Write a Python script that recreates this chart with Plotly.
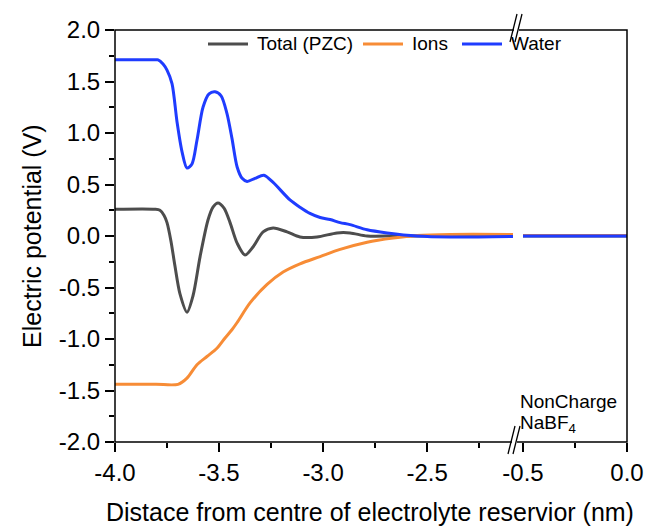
import plotly.graph_objects as go

# ---------------- data ----------------
# left segment of the broken x axis
x_total_left = [-4.0, -3.808, -3.784, -3.764, -3.750, -3.731, -3.712, -3.688, -3.654, -3.625,
                -3.591, -3.553, -3.529, -3.505, -3.476, -3.447, -3.413, -3.375, -3.337, -3.288,
                -3.240, -3.173, -3.111, -3.029, -2.933, -2.870, -2.788, -2.663, -2.534, -2.341, -2.087]
total_left = [0.26, 0.26, 0.25, 0.20, 0.13, -0.05, -0.29, -0.56, -0.74, -0.58,
              -0.20, 0.155, 0.28, 0.32, 0.27, 0.13, -0.07, -0.185, -0.107, 0.04,
              0.078, 0.04, -0.01, -0.01, 0.03, 0.03, 0.0, 0.0, 0.0, 0.0, 0.0]

x_ions_left = [-4.0, -3.803, -3.697, -3.654, -3.606, -3.558, -3.510, -3.471, -3.438, -3.413,
               -3.351, -3.269, -3.192, -3.111, -3.014, -2.918, -2.788, -2.663, -2.548, -2.389, -2.087]
ions_left = [-1.44, -1.44, -1.44, -1.38, -1.25, -1.17, -1.09, -0.99, -0.91, -0.84,
             -0.65, -0.47, -0.35, -0.27, -0.20, -0.13, -0.06, -0.02, 0.005, 0.015, 0.015]

x_water_left = [-4.0, -3.803, -3.793, -3.769, -3.750, -3.726, -3.702, -3.678, -3.654, -3.630,
                -3.606, -3.577, -3.548, -3.519, -3.490, -3.462, -3.438, -3.413, -3.389, -3.365,
                -3.327, -3.284, -3.240, -3.159, -3.111, -3.063, -3.014, -2.966, -2.918, -2.870,
                -2.788, -2.692, -2.548, -2.389, -2.087]
water_left = [1.71, 1.71, 1.71, 1.67, 1.61, 1.48, 1.11, 0.82, 0.66, 0.70,
              0.93, 1.25, 1.38, 1.40, 1.36, 1.19, 0.95, 0.67, 0.56, 0.53,
              0.56, 0.59, 0.52, 0.35, 0.28, 0.22, 0.18, 0.16, 0.13, 0.11,
              0.06, 0.03, 0.0, -0.01, -0.005]

# right segment of the broken x axis
x_right = [-0.5, -0.25, 0.0]
total_right = [0.0, 0.0, 0.0]
ions_right = [0.005, 0.005, 0.005]
water_right = [0.0, 0.0, 0.0]

series_names = ["Total (PZC)", "Ions", "Water"]
series_colors = ["#4d4d4d", "#f78c36", "#1f3cff"]

y_tickvals = [-2.0, -1.5, -1.0, -0.5, 0.0, 0.5, 1.0, 1.5, 2.0]
y_ticktext = ["-2.0", "-1.5", "-1.0", "-0.5", "0.0", "0.5", "1.0", "1.5", "2.0"]
y_minor = [-1.75, -1.25, -0.75, -0.25, 0.25, 0.75, 1.25, 1.75]
xl_tickvals = [-4.0, -3.5, -3.0, -2.5]
xl_ticktext = ["-4.0", "-3.5", "-3.0", "-2.5"]
xl_minor = [-3.75, -3.25, -2.75, -2.25]
xr_tickvals = [-0.5, 0.0]
xr_ticktext = ["-0.5", "0.0"]
xr_minor = [-0.25]
x_left_range = [-4.0, -2.087]
x_right_range = [-0.5, 0.0]

# ---------------- layout geometry ----------------
W, H = 646, 527
L, R, T, B = 115, 627, 30, 442   # plot area in window pixels (body margin is removed below)
def xp(px):
    return (px - L) / (R - L)
def yp(py):
    return (B - py) / (B - T)

FONT = "Arial, Liberation Sans, sans-serif"

fig = go.Figure()
left_data = [(x_total_left, total_left), (x_ions_left, ions_left), (x_water_left, water_left)]
right_data = [(x_right, total_right), (x_right, ions_right), (x_right, water_right)]
for i, name in enumerate(series_names):
    fig.add_trace(go.Scatter(x=left_data[i][0], y=left_data[i][1], mode="lines", name=name,
                             line=dict(color=series_colors[i], width=3, shape="spline", smoothing=0.8),
                             xaxis="x", yaxis="y", showlegend=False))
for i, name in enumerate(series_names):
    fig.add_trace(go.Scatter(x=right_data[i][0], y=right_data[i][1], mode="lines", name=name,
                             line=dict(color=series_colors[i], width=3),
                             xaxis="x2", yaxis="y", showlegend=False))

tickfont = dict(family=FONT, size=24, color="black")
common_x = dict(ticks="outside", ticklen=9, tickwidth=1.5, tickcolor="black", showline=False,
                showgrid=False, zeroline=False, tickfont=tickfont, automargin=False)

fig.update_layout(
    width=W, height=H, autosize=False,
    margin=dict(l=L, r=W - R, t=T, b=H - B, autoexpand=False),
    paper_bgcolor="white", plot_bgcolor="white",
    xaxis=dict(domain=[0, xp(513)], range=x_left_range, tickmode="array",
               tickvals=xl_tickvals, ticktext=xl_ticktext,
               minor=dict(tickmode="array", tickvals=xl_minor, ticks="outside", ticklen=5,
                          tickwidth=1.5, tickcolor="black", showgrid=False),
               anchor="y", **common_x),
    xaxis2=dict(domain=[xp(523), 1], range=x_right_range, tickmode="array",
                tickvals=xr_tickvals, ticktext=xr_ticktext,
                minor=dict(tickmode="array", tickvals=xr_minor, ticks="outside", ticklen=5,
                           tickwidth=1.5, tickcolor="black", showgrid=False),
                anchor="y", **common_x),
    yaxis=dict(range=[-2.0, 2.0], tickmode="array", tickvals=y_tickvals, ticktext=y_ticktext,
               ticks="outside", ticklen=9, tickwidth=1.5, tickcolor="black",
               minor=dict(tickmode="array", tickvals=y_minor, ticks="outside", ticklen=5,
                          tickwidth=1.5, tickcolor="black", showgrid=False),
               showline=False, showgrid=False, zeroline=False, tickfont=tickfont, automargin=False),
    showlegend=False,
)

# frame
fig.add_shape(type="rect", xref="paper", yref="paper", x0=0, y0=0, x1=1, y1=1,
              line=dict(color="black", width=1.5), fillcolor="rgba(0,0,0,0)", layer="above")
# break gaps and marks
for ypx, xc in ((T, 516), (B, 514)):
    fig.add_shape(type="rect", xref="paper", yref="paper", x0=xp(xc - 2), x1=xp(xc + 3),
                  y0=yp(ypx + 2), y1=yp(ypx - 2), line=dict(width=0), fillcolor="white", layer="above")
    for dx in (-3, 2):
        fig.add_shape(type="line", xref="paper", yref="paper",
                      x0=xp(xc + dx - 3), y0=yp(ypx + 12), x1=xp(xc + dx + 4), y1=yp(ypx - 16),
                      line=dict(color="black", width=1.3), layer="above")

# legend (drawn by hand to match the long legend lines)
legend_line_x = [208, 363, 462]
for i, name in enumerate(series_names):
    x0 = legend_line_x[i]
    fig.add_shape(type="line", xref="paper", yref="paper", x0=xp(x0), x1=xp(x0 + 40),
                  y0=yp(44), y1=yp(44), line=dict(color=series_colors[i], width=3))
    fig.add_annotation(text=name, xref="paper", yref="paper", x=xp(x0 + 47), y=yp(44),
                       showarrow=False, xanchor="left", yanchor="middle",
                       font=dict(family=FONT, size=19, color="black"))

# axis titles
fig.add_annotation(text="Distace from centre of electrolyte reservior (nm)", xref="paper", yref="paper",
                   x=xp(370), y=yp(512), showarrow=False, xanchor="center", yanchor="middle",
                   font=dict(family=FONT, size=25, color="black"))
fig.add_annotation(text="Electric potential (V)", xref="paper", yref="paper", textangle=-90,
                   x=xp(32), y=yp(236), showarrow=False, xanchor="center", yanchor="middle",
                   font=dict(family=FONT, size=25, color="black"))
fig.add_annotation(text="NonCharge", xref="paper", yref="paper",
                   x=xp(518), y=yp(401), showarrow=False, xanchor="left", yanchor="middle",
                   align="left", font=dict(family=FONT, size=19, color="black"))
fig.add_annotation(text="NaBF<sub>4</sub>", xref="paper", yref="paper",
                   x=xp(518), y=yp(424), showarrow=False, xanchor="left", yanchor="middle",
                   align="left", font=dict(family=FONT, size=19, color="black"))

fig.write_html("out.html", config={"displayModeBar": False, "responsive": False},
               post_script="document.body.style.margin='0';document.body.style.overflow='hidden';")
